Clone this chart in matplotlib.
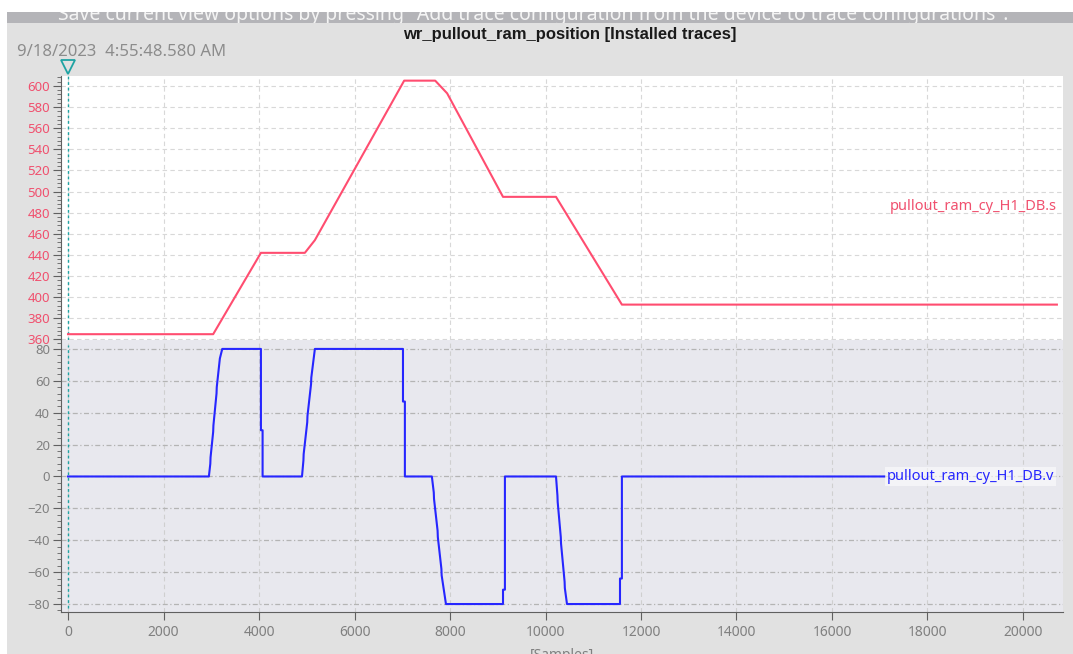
import matplotlib
matplotlib.use("Agg")
from matplotlib import pyplot as plt
from matplotlib.ticker import AutoMinorLocator
from matplotlib.patches import Rectangle

plt.rcParams['font.family'] = ['Noto Sans', 'DejaVu Sans']

# pullout_ram_cy_H1_DB.s  (position), breakpoints
pos_samples = [0, 3040, 4040, 4960, 5170, 7040, 7690, 7940, 9110, 10220, 11600, 20710]
pos_values = [365, 365, 442, 442, 454, 605, 605, 593, 495, 495, 393, 393]

# pullout_ram_cy_H1_DB.v  (velocity)
vel_samples = [0, 2950, 2980, 2985, 3040, 3045, 3110, 3115, 3180, 3230, 4040, 4040, 4075, 4075,
               4900, 4930, 4935, 5010, 5015, 5090, 5095, 5170, 7015, 7015, 7055, 7055,
               7620, 7660, 7665, 7740, 7745, 7820, 7825, 7915, 9110, 9110, 9150, 9150,
               10220, 10250, 10255, 10320, 10325, 10400, 10405, 10450, 11560, 11560, 11600, 11600, 17100]
vel_values = [0, 0, 8, 12, 28, 32, 52, 56, 74, 80, 80, 29, 29, 0,
              0, 10, 14, 34, 38, 58, 62, 80, 80, 47, 47, 0,
              0, -10, -14, -34, -38, -58, -62, -80, -80, -71, -71, 0,
              0, -12, -16, -38, -42, -66, -70, -80, -80, -64, -64, 0, 0]

pos_ticks = list(range(360, 601, 20))
vel_ticks = list(range(-80, 81, 20))
x_ticks = list(range(0, 20001, 2000))

title = "wr_pullout_ram_position [Installed traces]"
timestamp = "9/18/2023  4:55:48.580 AM"
banner = 'Save current view options by pressing "Add trace configuration from the device to trace configurations".'

pink = "#ff4d70"
pink_txt = "#f0506e"
blue = "#2626ff"
teal = "#1fa3a3"
grey_txt = "#808080"

W, H = 1073, 654
fig = plt.figure(figsize=(W / 100, H / 100), dpi=100, facecolor="#e1e1e1")

# white strips top / left, grey banner
fig.patches.append(Rectangle((0, 1 - 12 / H), 1, 12 / H, transform=fig.transFigure,
                             facecolor="white", edgecolor="none", zorder=0))
fig.patches.append(Rectangle((0, 0), 7 / W, 1, transform=fig.transFigure,
                             facecolor="white", edgecolor="none", zorder=0))
axb = fig.add_axes([7 / W, 1 - 23 / H, 1 - 7 / W, 11 / H])
axb.set_facecolor("#b4b4b8")
axb.set_xticks([])
axb.set_yticks([])
for s in axb.spines.values():
    s.set_visible(False)
axb.text(51 / (W - 7), 0.27, banner, transform=axb.transAxes, color="#f4f4f4",
         fontsize=14, va="baseline", ha="left", clip_on=True)

left, right = 61 / W, 1063 / W
ax1 = fig.add_axes([left, (H - 340) / H, right - left, 264 / H])
ax2 = fig.add_axes([left, (H - 612) / H, right - left, 272 / H], sharex=ax1)

ax1.set_facecolor("white")
ax2.set_facecolor("#e8e8ee")

ax1.plot(pos_samples, pos_values, color=pink, lw=1.5, zorder=3)
ax2.plot(vel_samples, vel_values, color=blue, lw=1.5, zorder=3)

ax1.set_xlim(-147, 20838)
ax1.set_ylim(359.5, 609.4)
ax2.set_ylim(-85.0, 85.6)

ax1.set_yticks(pos_ticks)
ax2.set_yticks(vel_ticks)
ax2.set_xticks(x_ticks)
for ax in (ax1, ax2):
    ax.yaxis.set_minor_locator(AutoMinorLocator(5))
    ax.tick_params(axis="y", which="major", direction="out", length=6, width=0.8,
                   color="#606060", labelsize=9.5, pad=2)
    ax.tick_params(axis="y", which="minor", direction="out", length=3, width=0.6,
                   color="#606060")
    for s in ("top", "right"):
        ax.spines[s].set_visible(False)
    ax.spines["left"].set_color("#606060")
    ax.set_axisbelow(True)

ax1.spines["bottom"].set_visible(False)
ax1.tick_params(axis="x", length=0, labelbottom=False)
ax1.tick_params(axis="y", labelcolor=pink_txt)
ax2.tick_params(axis="y", labelcolor=grey_txt)
ax2.tick_params(axis="x", direction="out", length=6, width=0.8, color="#606060",
                labelcolor=grey_txt, labelsize=10, pad=3)
ax2.spines["bottom"].set_color("#606060")

ax1.grid(True, color="#d8d8d8", ls=(0, (4, 3)), lw=0.8)
ax2.grid(True, axis="x", color="#cfcfcf", ls=(0, (4, 3)), lw=0.8)
ax2.grid(True, axis="y", color="#b4b4b4", ls=(0, (4, 2, 1, 2)), lw=0.9)

ax2.set_xlabel("[Samples]", color=grey_txt, fontsize=10, labelpad=6)

# trace names
ax1.text(20710, 486, "pullout_ram_cy_H1_DB.s", color=pink_txt, fontsize=10.5,
         ha="right", va="center", zorder=4)
ax2.text(17150, 0, "pullout_ram_cy_H1_DB.v", color=blue, fontsize=10.5,
         ha="left", va="center", zorder=4,
         bbox=dict(facecolor="white", alpha=0.55, edgecolor="none", pad=1.5))

# measurement cursor at sample 0
ax1.axvline(0, color=teal, ls=(0, (2, 2)), lw=1, zorder=2)
ax2.axvline(0, ymax=0.98, ymin=0.015, color=teal, ls=(0, (2, 2)), lw=1, zorder=2)
ax1.plot([0], [618], marker="v", ms=10, mfc="none", mec=teal, mew=1.3,
         clip_on=False, zorder=5)

fig.text(570 / W, 1 - 34 / H, title, ha="center", va="center", fontsize=12,
         fontweight="bold", color="#1a1a1a", family=["Liberation Sans", "DejaVu Sans"])
fig.text(17 / W, 1 - 52 / H, timestamp, ha="left", va="center", fontsize=12,
         color="#8c8c8c")

fig.savefig("out.png", dpi=100, facecolor=fig.get_facecolor())
